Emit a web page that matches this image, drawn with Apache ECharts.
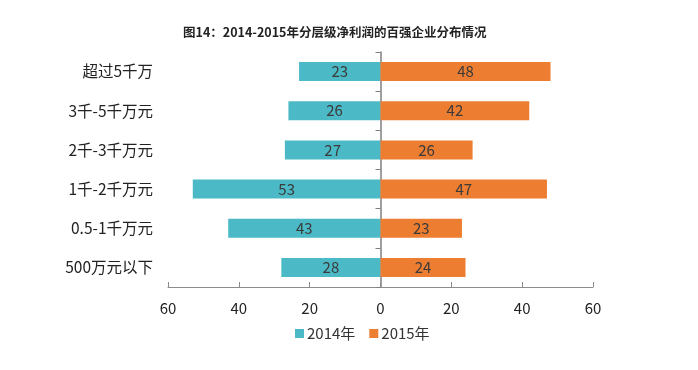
<!DOCTYPE html>
<html><head><meta charset="utf-8">
<script src="https://cdn.jsdelivr.net/npm/echarts@6/dist/echarts.min.js"></script>
<style>html,body{margin:0;padding:0;background:#fff}#c{width:698px;height:370px}</style>
</head><body><div id="c"></div>
<script>
const title = '图14：2014-2015年分层级净利润的百强企业分布情况';
const categories = ['500万元以下','0.5-1千万元','1千-2千万元','2千-3千万元','3千-5千万元','超过5千万'];
const values2014 = [28, 43, 53, 27, 26, 23];
const values2015 = [24, 23, 47, 26, 42, 48];
const seriesNames = ['2014年','2015年'];
const xTicks = {min: -60, max: 60, interval: 20};

const font = '"Noto Sans CJK SC", "Noto Sans", sans-serif';
const chart = echarts.init(document.getElementById('c'));
chart.setOption({
  animation: false,
  textStyle: {fontFamily: font},
  title: {text: title, left: 178, top: 21, textStyle: {fontSize: 12.5, fontWeight: 'bold', color: '#222', fontFamily: font}},
  grid: {left: 168, right: 105, top: 52, bottom: 83},
  legend: {
    data: seriesNames, left: 290, top: 321, icon: 'rect', itemWidth: 9, itemHeight: 9, itemGap: 14,
    textStyle: {fontSize: 15, color: '#333', padding: [0,0,0,-2]}
  },
  xAxis: {
    type: 'value', min: xTicks.min, max: xTicks.max, interval: xTicks.interval,
    axisLine: {show: true, lineStyle: {color: '#8c8c8c'}},
    axisTick: {show: true, inside: true, length: 5, lineStyle: {color: '#8c8c8c'}},
    splitLine: {show: false},
    axisLabel: {formatter: v => Math.abs(v), fontSize: 15, color: '#222', margin: 14}
  },
  yAxis: [
    {type: 'category', data: categories, position: 'left',
     axisLine: {show: false}, axisTick: {show: false},
     axisLabel: {fontSize: 15.5, color: '#222', margin: 15}},
    {type: 'category', data: categories, position: 'right',
     axisLine: {show: true, onZero: true, onZeroAxisIndex: 0, lineStyle: {color: '#7f7f7f', width: 1.5}},
     axisTick: {show: true, inside: true, length: 5, lineStyle: {color: '#7f7f7f'}},
     axisLabel: {show: false}}
  ],
  series: [
    {name: seriesNames[0], type: 'bar', stack: 's', yAxisIndex: 0, barWidth: 19,
     data: values2014.map(v => -v), itemStyle: {color: '#4BBAC6'},
     label: {show: true, position: 'inside', formatter: p => Math.abs(p.value), fontSize: 15, color: '#3a3a3a'}},
    {name: seriesNames[1], type: 'bar', stack: 's', yAxisIndex: 0, barWidth: 19,
     data: values2015, itemStyle: {color: '#ED7D31'},
     label: {show: true, position: 'inside', formatter: p => Math.abs(p.value), fontSize: 15, color: '#3a3a3a'}}
  ]
});
</script></body></html>
